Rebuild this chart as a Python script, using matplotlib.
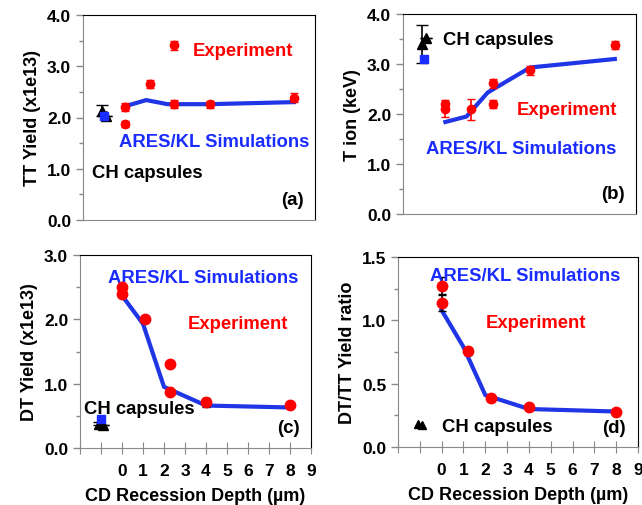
import numpy as np
import matplotlib.pyplot as plt
from matplotlib.ticker import MultipleLocator

plt.rcParams['font.family'] = ['Liberation Sans', 'DejaVu Sans']
plt.rcParams['font.weight'] = 'bold'

# experiment points (x = CD recession depth, um)
tt_x = [0, 0, 1.2, 2.3, 2.3, 4, 8]
tt_y = [2.20, 1.87, 2.66, 3.41, 2.27, 2.26, 2.39]
tt_err = [0.08, 0.06, 0.08, 0.09, 0.08, 0.07, 0.08]

ti_x = [0, 0, 1.2, 2.25, 2.25, 4, 8]
ti_y = [2.21, 2.10, 2.10, 2.62, 2.20, 2.88, 3.39]
ti_err = [0.08, 0.15, 0.21, 0.09, 0.08, 0.09, 0.08]

dt_x = [0, 0, 1.1, 2.3, 2.3, 4, 8]
dt_y = [2.51, 2.40, 2.00, 1.30, 0.87, 0.71, 0.67]
dt_err = [0.02, 0.02, 0.02, 0.02, 0.02, 0.07, 0.02]

rt_x = [0, 0, 1.2, 2.25, 4, 8]
rt_y = [1.27, 1.14, 0.755, 0.385, 0.315, 0.277]
rt_err = [0.07, 0.07, 0.03, 0.02, 0.02, 0.01]

# ARES/KL simulations
sim_x = [0, 1, 2, 4, 8]
sim_tt = [2.22, 2.34, 2.26, 2.26, 2.30]
sim_ti = [1.84, 1.95, 2.43, 2.93, 3.10]
sim_dt = [2.37, 1.93, 0.95, 0.66, 0.63]
sim_rt = [1.08, 0.79, 0.41, 0.30, 0.28]

# CH capsules: black triangles and blue square (sim)
ch_x = [-1.1, -0.9]
ch_tt = [2.13, 2.02]
ch_tt_err = [0.11, 0.0]
ch_tt_sim = 2.03
ch_ti = [3.40, 3.52]
ch_ti_err = [0.38, 0.0]
ch_ti_sim = 3.10
ch_dt = [0.38, 0.36]
ch_dt_err = [0.03, 0.0]
ch_dt_sim = 0.45
ch_rt = [0.18, 0.175]

fig = plt.figure(figsize=(6.42, 5.06), dpi=100)
W, H = 642, 506


def make_ax(l, t, r, b):
    ax = fig.add_axes([l / W, 1 - b / H, (r - l) / W, (b - t) / H])
    for s in ['left', 'bottom']:
        ax.spines[s].set_color('#888888')
    for s in ['top', 'right']:
        ax.spines[s].set_color('black')
    ax.tick_params(axis='y', which='both', direction='out', color='#888888',
                   labelsize=12.5, length=5, width=1)
    ax.tick_params(axis='y', which='minor', length=3)
    ax.set_xlim(-2, 9)
    return ax


axes_info = [
    ('a', (83, 16, 315, 221), tt_x, tt_y, tt_err, sim_tt, ch_tt, ch_tt_err, ch_tt_sim,
     'TT Yield (x1e13)', (0, 4), 1.0, 0.5, 'red'),
    ('b', (403, 15, 636, 215), ti_x, ti_y, ti_err, sim_ti, ch_ti, ch_ti_err, ch_ti_sim,
     'T ion (keV)', (0, 4), 1.0, 0.5, 'red'),
    ('c', (80, 256, 311, 449), dt_x, dt_y, dt_err, sim_dt, ch_dt, ch_dt_err, ch_dt_sim,
     'DT Yield (x1e13)', (0, 3), 1.0, 0.5, 'black'),
    ('d', (398, 258, 638, 448), rt_x, rt_y, rt_err, sim_rt, ch_rt, None, None,
     'DT/TT Yield ratio', (0, 1.5), 0.5, 0.25, 'black'),
]

axs = {}
for name, box, ex, ey, ee, sy, cy, ce, cs, ylab, ylim, maj, mnr, ecol in axes_info:
    ax = make_ax(*box)
    axs[name] = ax
    ms = 6 if name in 'ab' else 7.5
    ax.errorbar(ex, ey, yerr=ee, fmt='o', color='red', ms=ms, ecolor=ecol,
                elinewidth=1.2, capsize=3, zorder=3)
    ax.plot(sim_x, sy, color='#1f35e6', lw=3, zorder=2)
    if ce is not None:
        ax.errorbar(ch_x, cy, yerr=ce, fmt='^', color='black', ms=7,
                    elinewidth=1.2, capsize=4, zorder=3)
        ax.plot(-1.0, cs, 's', color='#1a2cff', ms=6, zorder=4)
    else:
        ax.plot(ch_x, cy, '^', color='black', ms=6, zorder=3)
    ax.set_ylim(*ylim)
    ax.yaxis.set_major_locator(MultipleLocator(maj))
    ax.yaxis.set_minor_locator(MultipleLocator(mnr))
    ax.set_yticklabels([f'{v:.1f}' for v in ax.get_yticks()])
    ax.set_ylabel(ylab, fontsize=13, fontweight='bold')
    if name in 'ab':
        ax.set_xticks([])
    else:
        ax.set_xticks(range(-2, 10))
        ax.set_xticklabels(['', ''] + [str(i) for i in range(10)])
        ax.tick_params(axis='x', direction='inout', length=8, color='#888888',
                       labelsize=12.5, pad=7)
        ax.set_xlabel('CD Recession Depth (\u00b5m)', fontsize=13,
                      fontweight='bold', labelpad=6)
    ax.text(0.95, 0.06, f'({name})', transform=ax.transAxes, ha='right',
            va='bottom', fontsize=13.5, fontweight='bold')

fs = 13.3
blue = '#1a2cff'
a = axs['a']
a.text(5.6, 3.22, 'Experiment', color='red', fontsize=fs, fontweight='bold', ha='center')
a.text(-0.3, 1.45, 'ARES/KL Simulations', color=blue, fontsize=fs, fontweight='bold')
a.text(-1.55, 0.83, 'CH capsules', color='black', fontsize=fs, fontweight='bold')

b = axs['b']
b.text(-0.1, 3.4, 'CH capsules', color='black', fontsize=fs, fontweight='bold')
b.text(5.75, 2.0, 'Experiment', color='red', fontsize=fs, fontweight='bold', ha='center')
b.text(3.6, 1.22, 'ARES/KL Simulations', color=blue, fontsize=fs, fontweight='bold', ha='center')

c = axs['c']
c.text(3.85, 2.58, 'ARES/KL Simulations', color=blue, fontsize=fs, fontweight='bold', ha='center')
c.text(5.5, 1.86, 'Experiment', color='red', fontsize=fs, fontweight='bold', ha='center')
c.text(-1.8, 0.55, 'CH capsules', color='black', fontsize=fs, fontweight='bold')

d = axs['d']
d.text(3.85, 1.32, 'ARES/KL Simulations', color=blue, fontsize=fs, fontweight='bold', ha='center')
d.text(4.3, 0.95, 'Experiment', color='red', fontsize=fs, fontweight='bold', ha='center')
d.text(0.0, 0.13, 'CH capsules', color='black', fontsize=fs, fontweight='bold')

fig.savefig('out.png', dpi=100)
